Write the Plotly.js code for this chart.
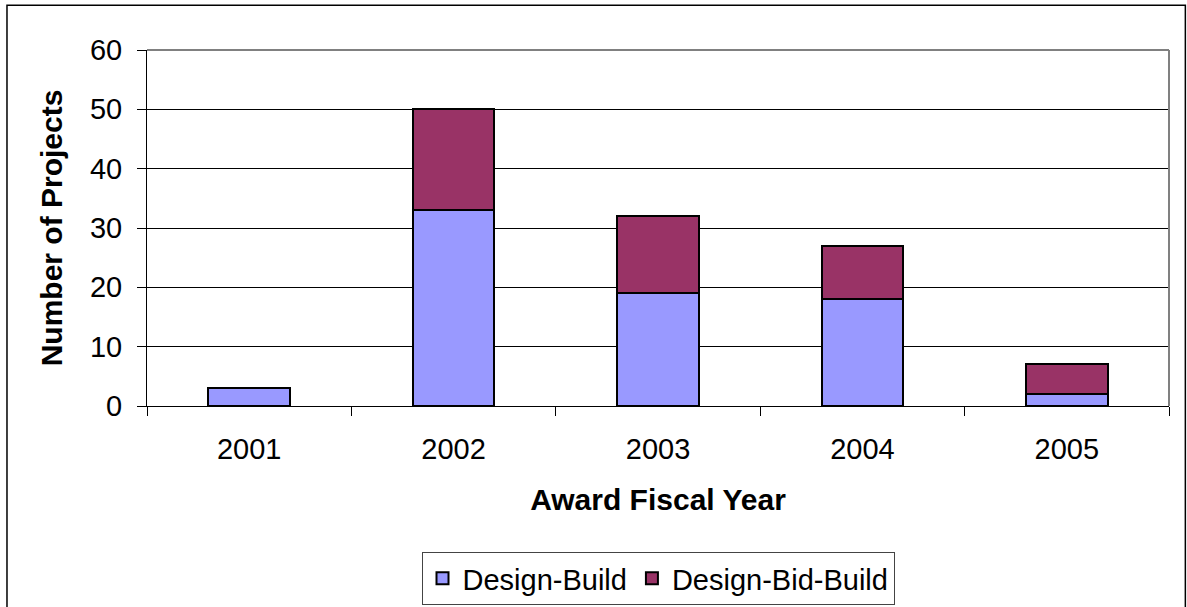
<!DOCTYPE html>
<html>
<head>
<meta charset="utf-8">
<script src="https://cdn.plot.ly/plotly-3.0.1.min.js"></script>
<style>html,body{margin:0;padding:0;background:#fff;}#chart{width:1187px;height:607px;}</style>
</head>
<body>
<div id="chart"></div>
<script>
const years = ["2001", "2002", "2003", "2004", "2005"];
const designBuild = [3, 33, 19, 18, 2];
const designBidBuild = [0, 17, 13, 9, 5];
const seriesNames = ["Design-Build", "Design-Bid-Build"];
const yTicks = [0, 10, 20, 30, 40, 50, 60];

const FONT = "Liberation Sans, Arial, sans-serif";
const traces = [
  {type: "bar", x: years, y: designBuild, name: seriesNames[0],
   marker: {color: "#9999FF", line: {color: "#000", width: 2}}},
  {type: "bar", x: years, y: designBidBuild, name: seriesNames[1],
   marker: {color: "#993366", line: {color: "#000", width: 2}}}
];

const layout = {
  width: 1187, height: 607,
  margin: {l: 147, r: 18, t: 50, b: 201, autoexpand: false},
  paper_bgcolor: "#fff", plot_bgcolor: "#fff",
  barmode: "stack", bargap: 0.6,
  font: {family: FONT, size: 29, color: "#000"},
  showlegend: true,
  legend: {orientation: "h", xref: "paper", x: 0.5, xanchor: "center",
    yref: "container", y: 0.0906, yanchor: "top",
    bordercolor: "#444", borderwidth: 1, font: {family: FONT, size: 29, color: "#000"},
    traceorder: "normal"},
  xaxis: {type: "category", tickson: "boundaries", ticks: "outside", ticklen: 9,
    tickcolor: "#000", showgrid: false, showline: true, linecolor: "#000", linewidth: 1,
    ticklabelstandoff: 17, automargin: false,
    tickfont: {family: FONT, size: 29, color: "#000"},
    title: {text: "<b>Award Fiscal Year</b>", font: {family: FONT, size: 30, color: "#000"}, standoff: 25}},
  yaxis: {range: [0, 60], tickvals: yTicks, ticks: "outside", ticklen: 9, tickcolor: "#000",
    showgrid: true, gridcolor: "#000", gridwidth: 1, showline: true, linecolor: "#000", linewidth: 1,
    ticklabelstandoff: 9, automargin: false,
    zeroline: false, tickfont: {family: FONT, size: 29, color: "#000"},
    title: {text: "<b>Number of Projects</b>", font: {family: FONT, size: 30, color: "#000"}, standoff: 18}},
  shapes: [
    {type: "line", xref: "paper", yref: "paper", x0: 0, x1: 1, y0: 1, y1: 1,
     line: {color: "#808080", width: 2}, layer: "above"},
    {type: "line", xref: "paper", yref: "paper", x0: 1, x1: 1, y0: 0, y1: 1,
     line: {color: "#808080", width: 2}, layer: "above"},
    {type: "rect", xref: "paper", yref: "paper", x0: -0.137, x1: 1.016, y0: -0.65, y1: 1.126,
     line: {color: "#000", width: 1.5}, fillcolor: "rgba(0,0,0,0)", layer: "below"}
  ]
};

Plotly.newPlot("chart", traces, layout, {displayModeBar: false, staticPlot: true});
</script>
</body>
</html>
